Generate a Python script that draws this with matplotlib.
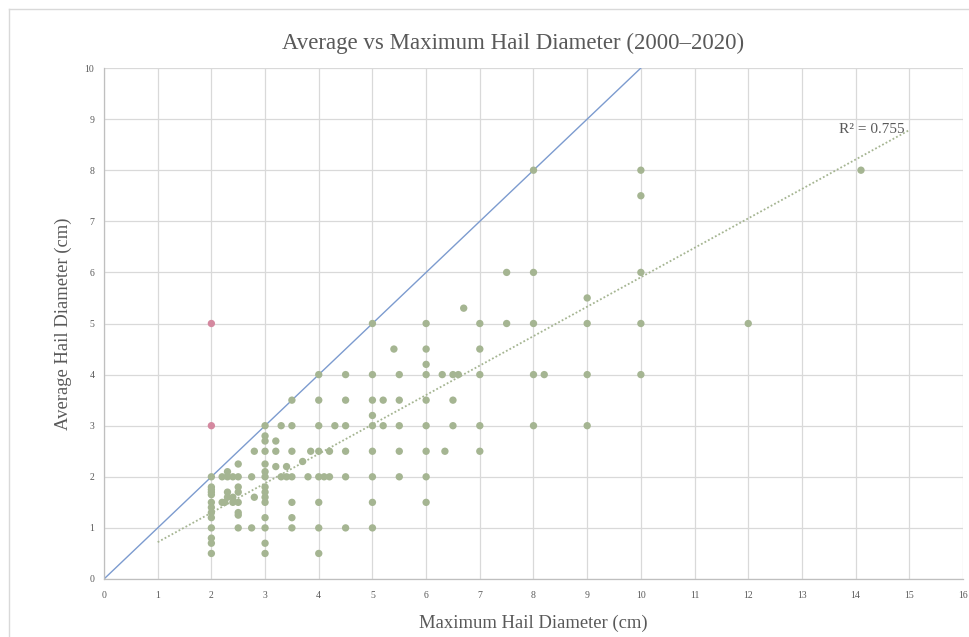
import matplotlib.pyplot as plt
import numpy as np
from matplotlib.lines import Line2D

# hail reports: (max diameter, average diameter) in cm
max_diam = np.array([
    2, 2, 2, 2, 2, 2, 2, 2, 2, 2, 2, 2, 2,
    2.2, 2.2, 2.25,
    2.3, 2.3, 2.3, 2.3,
    2.4, 2.4, 2.4,
    2.5, 2.5, 2.5, 2.5, 2.5, 2.5, 2.5, 2.5,
    2.8, 2.75, 2.8, 2.75,
    3, 3, 3, 3, 3, 3, 3, 3, 3, 3, 3, 3, 3, 3, 3,
    3.2, 3.2, 3.2, 3.3, 3.3, 3.4, 3.4,
    3.5, 3.5, 3.5, 3.5, 3.5, 3.5, 3.5,
    3.7, 3.8, 3.85,
    4, 4, 4, 4, 4, 4, 4, 4,
    4.1, 4.2, 4.2, 4.3,
    4.5, 4.5, 4.5, 4.5, 4.5, 4.5,
    5, 5, 5, 5, 5, 5, 5, 5, 5,
    5.2, 5.2, 5.4,
    5.5, 5.5, 5.5, 5.5, 5.5,
    6, 6, 6, 6, 6, 6, 6, 6, 6,
    6.3, 6.35, 6.5, 6.5, 6.5, 6.6, 6.7,
    7, 7, 7, 7, 7,
    7.5, 7.5,
    8, 8, 8, 8, 8, 8.2,
    9, 9, 9, 9,
    10, 10, 10, 10, 10,
    12, 14.1,
])
avg_diam = np.array([
    2.0, 1.8, 1.75, 1.7, 1.65, 1.5, 1.4, 1.3, 1.2, 1.0, 0.8, 0.7, 0.5,
    2.0, 1.5, 1.5,
    2.1, 2.0, 1.7, 1.6,
    2.0, 1.6, 1.5,
    2.25, 2.0, 1.8, 1.7, 1.5, 1.3, 1.25, 1.0,
    2.5, 2.0, 1.6, 1.0,
    3.0, 2.8, 2.7, 2.5, 2.25, 2.1, 2.0, 1.8, 1.7, 1.6, 1.5, 1.2, 1.0, 0.7, 0.5,
    2.7, 2.5, 2.2, 3.0, 2.0, 2.2, 2.0,
    3.5, 3.0, 2.5, 2.0, 1.5, 1.2, 1.0,
    2.3, 2.0, 2.5,
    4.0, 3.5, 3.0, 2.5, 2.0, 1.5, 1.0, 0.5,
    2.0, 2.5, 2.0, 3.0,
    4.0, 3.5, 3.0, 2.5, 2.0, 1.0,
    5.0, 4.0, 3.5, 3.2, 3.0, 2.5, 2.0, 1.5, 1.0,
    3.5, 3.0, 4.5,
    4.0, 3.5, 3.0, 2.5, 2.0,
    5.0, 4.5, 4.2, 4.0, 3.5, 3.0, 2.5, 2.0, 1.5,
    4.0, 2.5, 4.0, 3.5, 3.0, 4.0, 5.3,
    5.0, 4.5, 4.0, 3.0, 2.5,
    6.0, 5.0,
    8.0, 6.0, 5.0, 4.0, 3.0, 4.0,
    5.5, 5.0, 4.0, 3.0,
    8.0, 7.5, 6.0, 5.0, 4.0,
    5.0, 8.0,
])

# outliers (average larger than maximum)
outlier_max = [2, 2]
outlier_avg = [5, 3]

# trendline as shown on the chart (full data has many overlapping reports)
trend_slope = 0.576
trend_intercept = 0.145
trend_range = [1, 15]
r2_label = "R² = 0.755"

green = "#A5B592"
pink = "#D4889F"
blue = "#7C9BCF"
grey_text = "#595959"

plt.rcParams['font.family'] = ['Liberation Serif', 'DejaVu Serif']

fig = plt.figure(figsize=(9.7, 6.37), dpi=100)
ax = fig.add_axes([104 / 970, 1 - 579 / 637, (963 - 104) / 970, (579 - 68) / 637])

# light frame around the chart
fig.add_artist(Line2D([9 / 970, 1], [1 - 9 / 637, 1 - 9 / 637], transform=fig.transFigure,
                      color="#D9D9D9", lw=1))
fig.add_artist(Line2D([9 / 970, 9 / 970], [0, 1 - 9 / 637], transform=fig.transFigure,
                      color="#D9D9D9", lw=1))

ax.set_xlim(0, 16)
ax.set_ylim(0, 10)
ax.set_xticks(np.arange(0, 17, 1))
ax.set_yticks(np.arange(0, 11, 1))
ax.grid(True, color="#D9D9D9", lw=0.9)
ax.set_axisbelow(True)
for side in ["top", "right"]:
    ax.spines[side].set_visible(False)
for side in ["bottom", "left"]:
    ax.spines[side].set_color("#BFBFBF")
    ax.spines[side].set_linewidth(0.9)
ax.tick_params(length=0, labelsize=7, labelcolor=grey_text)
ax.tick_params(axis="x", pad=9)
ax.tick_params(axis="y", pad=7)

# 1:1 line
ax.plot([0, 10], [0, 10], color=blue, lw=1, zorder=2)

ax.scatter(max_diam, avg_diam, s=28, color=green, edgecolors="none", zorder=3)
ax.scatter(outlier_max, outlier_avg, s=28, color=pink, edgecolors="none", zorder=3)

# linear trendline
tx = np.array(trend_range)
ax.plot(tx, trend_slope * tx + trend_intercept, color=green, lw=1.3, ls=(0, (1, 1.2)), zorder=2)
ax.text(14.92, 8.79, r2_label, ha="right", va="center", fontsize=11, color=grey_text)

fig.text(513 / 970, 1 - 43 / 637, "Average vs Maximum Hail Diameter (2000–2020)",
         ha="center", va="center", fontsize=16.5, color=grey_text)
ax.set_xlabel("Maximum Hail Diameter (cm)", fontsize=13.4, color=grey_text, labelpad=10)
ax.set_ylabel("Average Hail Diameter (cm)", fontsize=13.4, color=grey_text, labelpad=9)

fig.savefig("out.png", dpi=100)
